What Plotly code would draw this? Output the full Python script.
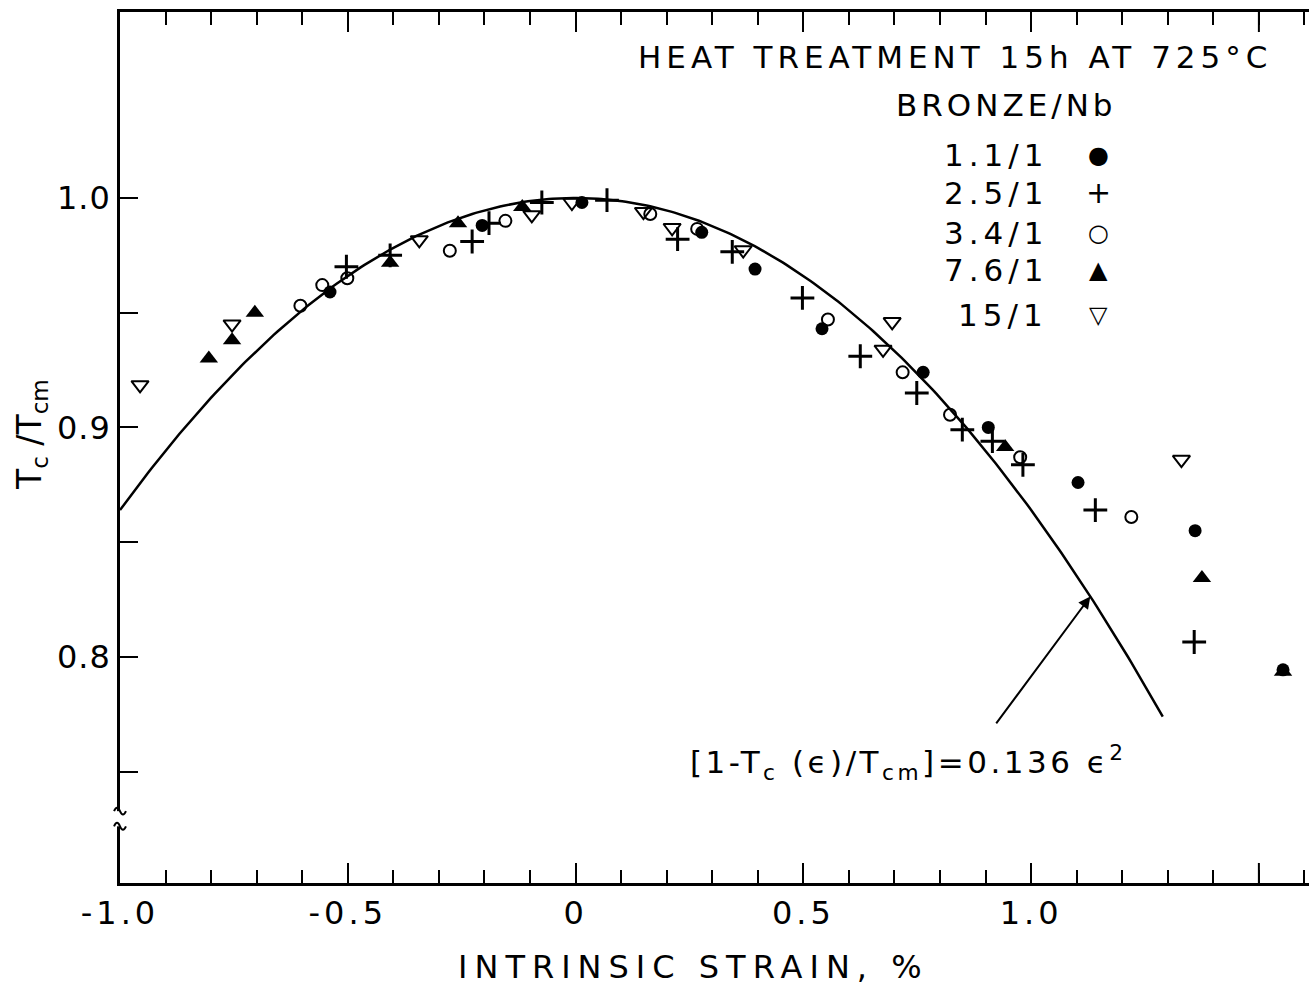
import plotly.graph_objects as go
import numpy as np

# ---------------- data ----------------
# BRONZE/Nb = 1.1/1  (filled circles)
x_11 = [-0.539, -0.205, 0.014, 0.277, 0.394, 0.541, 0.763, 0.906, 1.103, 1.36, 1.553]
y_11 = [0.959, 0.988, 0.998, 0.985, 0.969, 0.943, 0.924, 0.900, 0.876, 0.855, 0.7944]
# 2.5/1  (plus)
x_25 = [-0.503, -0.407, -0.227, -0.19, -0.074, 0.069, 0.224, 0.344, 0.498, 0.625, 0.749, 0.849, 0.915, 0.982, 1.141, 1.358]
y_25 = [0.970, 0.975, 0.981, 0.989, 0.998, 0.999, 0.982, 0.9765, 0.9564, 0.931, 0.915, 0.899, 0.894, 0.8837, 0.864, 0.8065]
# 3.4/1  (open circles)
x_34 = [-0.604, -0.556, -0.501, -0.276, -0.154, 0.164, 0.267, 0.554, 0.718, 0.822, 0.976, 1.22]
y_34 = [0.953, 0.962, 0.965, 0.977, 0.990, 0.993, 0.9865, 0.947, 0.924, 0.9055, 0.887, 0.861]
# 7.6/1  (filled triangles)
x_76 = [-0.805, -0.754, -0.704, -0.407, -0.258, -0.117, 0.943, 1.375, 1.553]
y_76 = [0.930, 0.938, 0.950, 0.9717, 0.989, 0.996, 0.8915, 0.8344, 0.7935]
# 15/1  (open down-triangles)
x_15 = [-0.956, -0.754, -0.343, -0.096, -0.008, 0.149, 0.212, 0.368, 0.675, 0.695, 1.33]
y_15 = [0.9185, 0.945, 0.9817, 0.9926, 0.998, 0.994, 0.987, 0.9773, 0.934, 0.946, 0.886]

fit_coef = 0.136          # [1 - Tc(e)/Tcm] = 0.136 e^2
fit_xmin, fit_xmax = -1.0, 1.289

x_tickvals = [-1.0, -0.5, 0.0, 0.5, 1.0]
x_ticktext = ["-1.0", "-0.5", "0", "0.5", "1.0"]
y_tickvals = [0.8, 0.9, 1.0]
y_ticktext = ["0.8", "0.9", "1.0"]
y_minor = [0.75, 0.85, 0.95]

legend_labels = ["1.1/1", "2.5/1", "3.4/1", "7.6/1", "15/1"]
legend_symbols = ["●", "+", "○", "▲", "▽"]

FONT = "DejaVu Sans"


def spaced(t, px):
    return f'<span style="letter-spacing:{px}px">{t}</span>'


fig = go.Figure()

fx = np.linspace(fit_xmin, fit_xmax, 300)
fig.add_trace(go.Scatter(x=fx, y=1 - fit_coef * fx**2, mode="lines",
                         line=dict(color="black", width=2.5), hoverinfo="skip"))


def add(xs, ys, symbol, size, lw=2):
    fig.add_trace(go.Scatter(x=xs, y=ys, mode="markers",
                             marker=dict(symbol=symbol, size=size, color="black",
                                         line=dict(color="black", width=lw))))


add(x_11, y_11, "circle", 13, 0)
add(x_25, y_25, "cross-thin", 17, 3)
add(x_34, y_34, "circle-open", 12, 2)
add(x_76, y_76, "triangle-up", 16, 0)
add(x_15, y_15, "triangle-down-open", 15, 2)

fig.update_layout(
    width=1309, height=985,
    margin=dict(l=120, r=0, t=12, b=102),
    plot_bgcolor="white", paper_bgcolor="white",
    showlegend=False,
    font=dict(family=FONT, color="black"),
)

fig.update_xaxes(
    range=[-1.0, 1.61], showgrid=False, zeroline=False,
    showline=True, linecolor="black", linewidth=2.5, mirror="ticks",
    ticks="inside", ticklen=20, tickwidth=2, tickcolor="black",
    tickvals=x_tickvals, ticktext=[spaced(t, 4) for t in x_ticktext],
    tickfont=dict(size=32, family=FONT, color="black"),
    minor=dict(ticks="inside", dtick=0.1, tick0=0, ticklen=13, tickwidth=2, tickcolor="black"),
)
fig.update_yaxes(
    range=[0.7015, 1.081], showgrid=False, zeroline=False,
    showline=True, linecolor="black", linewidth=2.5, mirror=False,
    ticks="inside", ticklen=18, tickwidth=2, tickcolor="black",
    tickvals=y_tickvals, ticktext=[spaced(t, 1) for t in y_ticktext],
    tickfont=dict(size=32, family=FONT, color="black"),
    minor=dict(ticks="inside", tickvals=y_minor, ticklen=18, tickwidth=2, tickcolor="black"),
)

ann = []
ann.append(dict(text=spaced("INTRINSIC STRAIN, %", 7), xref="paper", yref="paper",
                x=(693 - 120) / 1189, y=(883 - 967) / 871, xanchor="center", yanchor="middle",
                showarrow=False, font=dict(size=32, family=FONT)))
ann.append(dict(text="T<sub>c</sub> /T<sub>cm</sub>", xref="paper", yref="paper",
                x=(31 - 120) / 1189, y=(883 - 435) / 871, xanchor="center", yanchor="middle",
                textangle=-90, showarrow=False, font=dict(size=33, family=FONT)))
ann.append(dict(text=spaced("HEAT TREATMENT 15h AT 725°C", 5), xref="paper", yref="paper",
                x=(955 - 120) / 1189, y=(883 - 57) / 871, xanchor="center", yanchor="middle",
                showarrow=False, font=dict(size=31, family=FONT)))
ann.append(dict(text=spaced("BRONZE/Nb", 4), xref="paper", yref="paper",
                x=(1006 - 120) / 1189, y=(883 - 105) / 871, xanchor="center", yanchor="middle",
                showarrow=False, font=dict(size=31, family=FONT)))
row_y = [155, 193, 233, 270, 315]
sym_size = [24, 30, 24, 24, 24]
for lab, sym, py, ss in zip(legend_labels, legend_symbols, row_y, sym_size):
    ann.append(dict(text=spaced(lab, 5), xref="paper", yref="paper",
                    x=(1050 - 120) / 1189, y=(883 - py) / 871, xanchor="right", yanchor="middle",
                    showarrow=False, font=dict(size=31, family=FONT)))
    ann.append(dict(text=sym, xref="paper", yref="paper",
                    x=(1098 - 120) / 1189, y=(883 - py) / 871, xanchor="center", yanchor="middle",
                    showarrow=False, font=dict(size=ss, family=FONT)))
# formula with arrow
ann.append(dict(text=spaced("[1-T<sub>c</sub> (ϵ)/T<sub>cm</sub>]=0.136 ϵ<sup>2</sup>", 3.5),
                xref="paper", yref="paper",
                x=(688 - 120) / 1189, y=(883 - 762) / 871, xanchor="left", yanchor="middle",
                showarrow=False, font=dict(size=31, family=FONT)))
ann.append(dict(text="", x=1.13, y=1 - fit_coef * 1.13**2, xref="x", yref="y",
                ax=0.921, ay=0.7704, axref="x", ayref="y",
                showarrow=True, arrowhead=2, arrowsize=1.2, arrowwidth=2, arrowcolor="black"))
fig.update_layout(annotations=ann)

# major-length tick at 1.5 (unlabelled in the reference)
for yy0, yy1 in ((0.0, 0.023), (1.0, 0.977)):
    fig.add_shape(type="line", xref="x", yref="paper", x0=1.5, x1=1.5, y0=yy0, y1=yy1,
                  line=dict(color="black", width=2))

# axis break mark on the y axis
fig.add_shape(type="line", xref="paper", yref="y", x0=0, x1=0, y0=0.7262, y1=0.7328,
              line=dict(color="white", width=6), layer="above")
for yb in (0.7262, 0.7328):
    fig.add_shape(type="path", xref="paper", yref="y",
                  path=f"M -0.005,{yb} Q -0.0025,{yb + 0.003} 0,{yb} T 0.005,{yb}",
                  line=dict(color="black", width=2), layer="above")

fig.write_html("out.html")
